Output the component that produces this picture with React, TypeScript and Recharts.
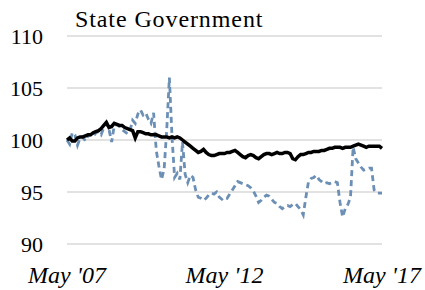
import { LineChart, Line, XAxis, YAxis, CartesianGrid } from "recharts"

const MONTHS = ["Jan", "Feb", "Mar", "Apr", "May", "Jun", "Jul", "Aug", "Sep", "Oct", "Nov", "Dec"]

// monthly labels, May 2007 .. May 2017
const months: string[] = []
for (let i = 0; i <= 120; i++) {
  const m = (4 + i) % 12
  const y = 7 + Math.floor((4 + i) / 12)
  months.push(`${MONTHS[m]} '${String(y).padStart(2, "0")}`)
}

const xTicks = ["May '07", "May '12", "May '17"]
const yTicks = [90, 95, 100, 105, 110]

const solidSeries = [
  100.0, 100.2, 99.9, 99.9, 100.2, 100.3, 100.3, 100.4, 100.5, 100.5,
  100.7, 100.8, 100.9, 101.1, 101.4, 101.7, 101.2, 101.3, 101.6, 101.5,
  101.4, 101.4, 101.2, 101.1, 101.0, 100.9, 100.2, 100.8, 100.8, 100.7,
  100.6, 100.6, 100.5, 100.5, 100.5, 100.4, 100.3, 100.3, 100.3, 100.2,
  100.3, 100.2, 100.3, 100.2, 100.0, 99.8, 99.6, 99.4, 99.2, 99.0,
  98.8, 98.9, 99.1, 98.8, 98.6, 98.5, 98.5, 98.6, 98.7, 98.7,
  98.7, 98.8, 98.8, 98.9, 99.0, 98.8, 98.6, 98.4, 98.3, 98.5,
  98.6, 98.5, 98.3, 98.2, 98.4, 98.6, 98.7, 98.7, 98.6, 98.7,
  98.8, 98.7, 98.7, 98.8, 98.8, 98.7, 98.2, 98.1, 98.4, 98.6,
  98.6, 98.7, 98.8, 98.8, 98.9, 98.9, 98.9, 99.0, 99.0, 99.1,
  99.2, 99.2, 99.3, 99.3, 99.3, 99.2, 99.3, 99.3, 99.3, 99.4,
  99.5, 99.6, 99.5, 99.4, 99.3, 99.4, 99.4, 99.4, 99.4, 99.4,
  99.2,
]

const dashedSeries = [
  100.0, 99.6, 100.7, 100.5, 99.5, 100.2, 100.3, 99.9, 100.4, 100.5,
  100.3, 100.7, 100.8, 100.5, 101.2, 101.6, 101.0, 99.8, 101.4, 101.5,
  101.3, 101.0, 100.8, 100.6, 100.9, 101.9, 101.6, 102.5, 102.9, 102.4,
  102.6, 102.0, 101.6, 102.6, 99.0, 97.5, 96.2, 97.2, 101.0, 106.0,
  100.3, 96.4, 96.8, 96.2, 99.8, 96.7, 95.9, 96.6, 96.4, 95.2,
  94.5, 94.4, 94.2, 94.4, 94.7, 94.9, 94.8, 95.0, 94.5, 94.3,
  94.5, 94.4, 94.8, 95.2, 95.6, 96.0, 95.9, 95.8, 95.7, 95.6,
  95.4, 95.1, 94.6, 94.0, 94.2, 94.5, 94.7, 94.6, 94.3, 94.0,
  93.9, 93.6, 93.4, 93.6, 93.7, 93.6, 93.8, 93.9, 93.6, 93.3,
  92.8, 94.5, 96.0, 96.3, 96.4, 96.6, 96.2, 96.0, 95.8, 95.9,
  95.8, 95.9, 96.0, 95.9, 94.0, 92.6, 93.4, 93.8, 94.5, 99.3,
  98.2, 97.8, 97.4, 97.1, 97.2, 97.3, 97.3, 95.2, 94.9, 94.9,
  94.9,
]

const data = months.map((month, i) => ({
  month,
  solid: solidSeries[i],
  dashed: dashedSeries[i],
}))

const serif = "Liberation Serif"

export default function App() {
  return (
    <div
      style={{
        position: "absolute",
        left: 0,
        top: 0,
        width: 425,
        height: 290,
        background: "#fff",
        fontFamily: serif,
      }}
    >
      <LineChart
        width={425}
        height={290}
        data={data}
        margin={{ top: 36, right: 43, left: 0, bottom: 0 }}
        style={{ fontFamily: serif }}
      >
        <CartesianGrid vertical={false} stroke="#d9d9d9" strokeWidth={1.5} />
        <XAxis
          dataKey="month"
          ticks={xTicks}
          interval={0}
          height={46}
          axisLine={false}
          tickLine={false}
          tickSize={0}
          tickMargin={22}
          tick={{ fill: "#000", fontSize: 24, fontStyle: "italic", fontFamily: serif }}
        />
        <YAxis
          domain={[90, 110]}
          ticks={yTicks}
          width={67}
          axisLine={false}
          tickLine={false}
          tickSize={0}
          tickMargin={24}
          tick={{ fill: "#000", fontSize: 22, fontFamily: serif }}
        />
        <Line
          type="linear"
          dataKey="dashed"
          stroke="#6b8fb5"
          strokeWidth={2.8}
          strokeDasharray="6 4"
          dot={false}
          isAnimationActive={false}
        />
        <Line
          type="linear"
          dataKey="solid"
          stroke="#000"
          strokeWidth={3.5}
          dot={false}
          isAnimationActive={false}
        />
      </LineChart>
      <div
        style={{
          position: "absolute",
          left: 75,
          top: 5,
          fontFamily: serif,
          fontSize: 24,
          letterSpacing: 0.9,
          lineHeight: "28px",
          color: "#000",
        }}
      >
        State Government
      </div>
    </div>
  )
}
